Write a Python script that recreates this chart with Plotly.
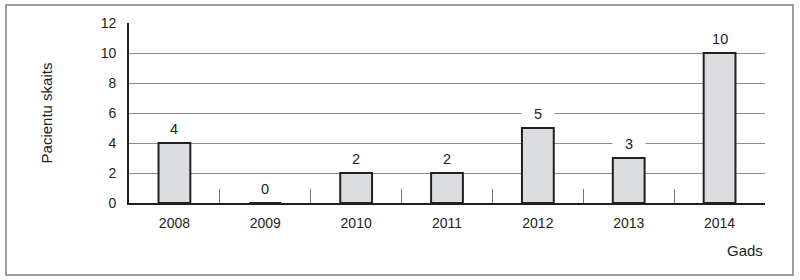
import plotly.graph_objects as go

years = ["2008", "2009", "2010", "2011", "2012", "2013", "2014"]
patients = [4, 0, 2, 2, 5, 3, 10]
y_ticks = [0, 2, 4, 6, 8, 10, 12]

TEXT = "#231f20"
FONT = "Liberation Sans, Arial, sans-serif"

fig = go.Figure()
fig.add_trace(go.Bar(
    x=years, y=patients, width=0.35,
    marker=dict(color="#dcdddf", line=dict(color="#231f20", width=2)),
    hoverinfo="skip", showlegend=False,
))

# category boundary ticks (between years)
bounds = [i + 0.5 for i in range(len(years) - 1)]
fig.add_trace(go.Scatter(x=[0], y=[0], xaxis="x2", mode="none",
                         hoverinfo="skip", showlegend=False))

annotations = []
# value labels with white background (cut the gridlines)
for i, v in enumerate(patients):
    annotations.append(dict(
        x=i, y=v, xref="x", yref="y",
        text="&nbsp;&nbsp;&nbsp;" + str(v) + "&nbsp;&nbsp;&nbsp;",
        showarrow=False, yanchor="middle", yshift=14, bgcolor="white",
        borderpad=0, font=dict(family=FONT, size=14.5, color=TEXT),
    ))
annotations.append(dict(
    x=1, y=0, xref="paper", yref="paper", text="Gads", showarrow=False,
    xanchor="right", yanchor="middle", yshift=-47,
    font=dict(family=FONT, size=15, color=TEXT),
))

fig.update_layout(
    width=800, height=280,
    margin=dict(l=129, r=35, t=23, b=77),
    plot_bgcolor="white", paper_bgcolor="white",
    font=dict(family=FONT, size=14, color=TEXT),
    annotations=annotations,
    xaxis=dict(
        type="category", range=[-0.5, 6.5], showgrid=False,
        showline=True, linecolor="#231f20", linewidth=2.4,
        ticks="", ticklabelstandoff=6,
        tickfont=dict(size=14, color=TEXT), zeroline=False,
    ),
    xaxis2=dict(
        overlaying="x", anchor="y", side="bottom", type="linear",
        range=[-0.5, 6.5], tickvals=bounds, ticks="inside", ticklen=14,
        tickwidth=1.4, tickcolor="#7a7a7a", showticklabels=False,
        showgrid=False, showline=False, zeroline=False,
    ),
    yaxis=dict(
        range=[0, 12], tickvals=y_ticks, showgrid=True, gridcolor="#8c8c8c",
        gridwidth=1, showline=True, linecolor="#231f20", linewidth=1.8,
        ticks="", ticklabelstandoff=8, zeroline=False,
        tickfont=dict(size=14, color=TEXT),
        title=dict(text="Pacientu skaits", standoff=44,
                   font=dict(size=15, color=TEXT)),
    ),
    shapes=[dict(
        type="rect", xref="paper", yref="paper",
        x0=-0.1934, x1=1.044, y0=-0.4, y1=1.1,
        line=dict(color="#7f7f7f", width=1.5), fillcolor="rgba(0,0,0,0)",
        layer="below",
    )],
)

fig.write_html("out.html")
